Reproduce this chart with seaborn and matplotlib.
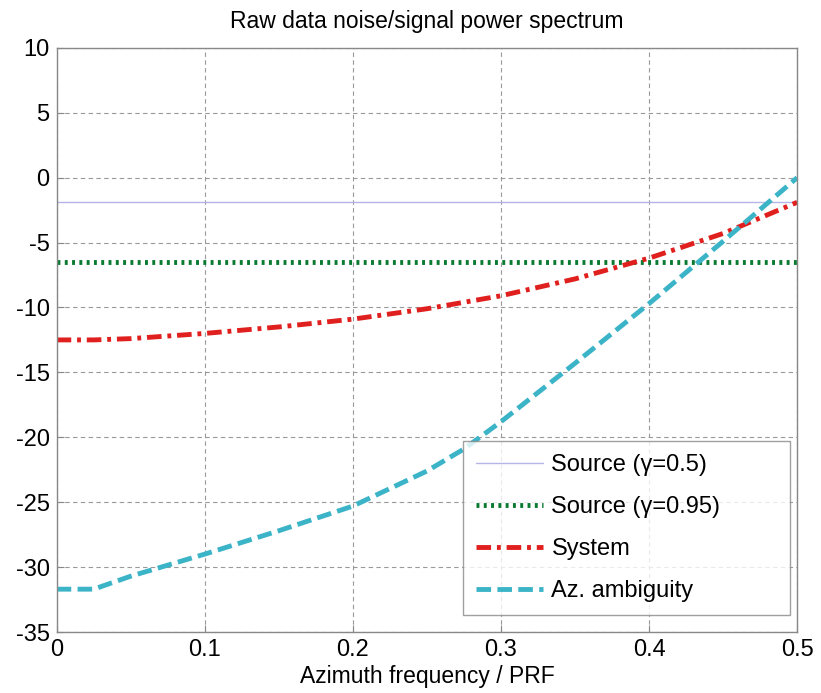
import numpy as np
import pandas as pd
import matplotlib
matplotlib.use("Agg")
import matplotlib.pyplot as plt
import seaborn as sns

freq = [0.0, 0.025, 0.05, 0.1, 0.15, 0.2, 0.25, 0.275, 0.3, 0.35, 0.4, 0.45, 0.5]
source_05 = [-1.85] * len(freq)
source_095 = [-6.5] * len(freq)
system = [-12.5, -12.5, -12.4, -12.0, -11.5, -10.9, -10.1, -9.6, -9.1, -7.8, -6.2, -4.3, -1.9]
az_amb = [-31.7, -31.7, -30.7, -29.0, -27.2, -25.3, -22.6, -20.9, -18.8, -14.3, -9.7, -4.9, 0.0]

series_names = ["Source (\u03b3=0.5)", "Source (\u03b3=0.95)", "System", "Az. ambiguity"]
series_vals = [source_05, source_095, system, az_amb]
colors = ["#b4b4e6", "#0a7a32", "#e0201e", "#3cb4c8"]

sns.set_style("white")
plt.rcParams['font.family'] = ['Liberation Sans', 'DejaVu Sans']
plt.rcParams['axes.unicode_minus'] = False
plt.rcParams['text.color'] = 'black'

fig = plt.figure(figsize=(8.21, 6.93), dpi=100)
ax = fig.add_axes([0.069, 0.088, 0.902, 0.843])

styles = [dict(lw=1.0, ls="-"),
          dict(lw=3.5, ls=(0, (0.6, 0.9))),
          dict(lw=3.5, ls=(0, (3.0, 1.2, 0.8, 1.2))),
          dict(lw=3.5, ls=(0, (3.0, 1.3)))]

for name, vals, c, st in zip(series_names, series_vals, colors, styles):
    df = pd.DataFrame({"f": freq, "v": vals})
    sns.lineplot(data=df, x="f", y="v", ax=ax, color=c, label=name,
                 linewidth=st["lw"], linestyle=st["ls"])

ax.set_xlim(0, 0.5)
ax.set_ylim(-35, 10)
ax.set_xticks([0, 0.1, 0.2, 0.3, 0.4, 0.5])
ax.set_xticklabels(["0", "0.1", "0.2", "0.3", "0.4", "0.5"])
ax.set_yticks(list(range(-35, 11, 5)))
ax.tick_params(labelsize=17, length=5, direction="in", color="#888888",
               pad=5, labelcolor="black", bottom=True, left=True)
ax.grid(True, color="#999999", linestyle=(0, (4, 3)), linewidth=0.8)
for s in ax.spines.values():
    s.set_color("#888888")
    s.set_linewidth(1.0)
ax.set_title("Raw data noise/signal power spectrum", fontsize=16.5, pad=14, color="black")
ax.set_xlabel("Azimuth frequency / PRF", fontsize=16.5, labelpad=3, color="black")
ax.set_ylabel("")

leg = ax.legend(loc="lower left", bbox_to_anchor=(0.5486, 0.029, 0.442, 0.3),
                mode="expand", fontsize=17,
                frameon=True, fancybox=False, edgecolor="#888888",
                handlelength=2.85, handletextpad=0.35, labelspacing=0.85,
                borderpad=0.55, borderaxespad=0.0)
leg.get_frame().set_linewidth(1.0)
for t in leg.get_texts():
    t.set_color("black")

fig.savefig("out.png", dpi=100, facecolor="white")
